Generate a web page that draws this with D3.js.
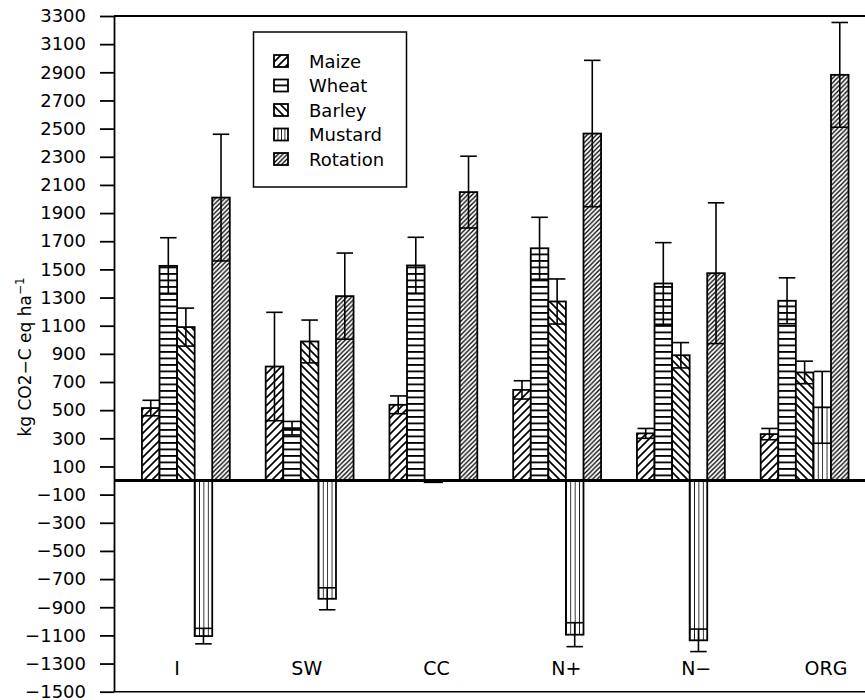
<!DOCTYPE html>
<html>
<head>
<meta charset="utf-8">
<script src="https://cdn.jsdelivr.net/npm/d3@7"></script>
<style>
  body { margin: 0; background: #fff; }
  svg { display: block; }
  text { font-family: "DejaVu Sans", sans-serif; fill: #000; }
</style>
</head>
<body>
<svg id="chart" width="865" height="700"></svg>
<script>
// ---- data ----
const groups = ["I", "SW", "CC", "N+", "N\u2212", "ORG"];
const crops = ["Maize", "Wheat", "Barley", "Mustard", "Rotation"];
const maize       = [515, 810, 538, 644, 335, 330];
const maizeErr    = [55, 385, 63, 65, 35, 40];
const wheat       = [1525, 372, 1528, 1650, 1400, 1277];
const wheatErr    = [200, 48, 200, 220, 290, 163];
const barley      = [1090, 988, -12, 1272, 890, 768];
const barleyErr   = [135, 152, 0, 160, 90, 80];
const mustard     = [-1105, -840, null, -1095, -1135, 520];
const mustardErr  = [55, 78, 0, 85, 80, 255];
const rotation    = [2010, 1310, 2049, 2465, 1473, 2882];
const rotationErr = [450, 306, 255, 520, 500, 372];
const yTicks = d3.range(-1500, 3301, 200);

const values = [maize, wheat, barley, mustard, rotation];
const errors = [maizeErr, wheatErr, barleyErr, mustardErr, rotationErr];
const patternIds = ["pMaize", "pWheat", "pBarley", "pMustard", "pRotation"];

const svg = d3.select("#chart");
const axisX = 114, plotTop = 16, plotBottom = 691.7, plotRight = 866.5;

// ---- patterns ----
const defs = svg.append("defs");
function diag(id, s, dir, sw) {
  const p = defs.append("pattern").attr("id", id).attr("patternUnits", "userSpaceOnUse")
    .attr("width", s).attr("height", s);
  p.append("rect").attr("width", s).attr("height", s).attr("fill", "#fff");
  const d = dir > 0
    ? `M0,${s} L${s},0 M${-s/4},${s/4} L${s/4},${-s/4} M${s*3/4},${s*5/4} L${s*5/4},${s*3/4}`
    : `M0,0 L${s},${s} M${-s/4},${s*3/4} L${s/4},${s*5/4} M${s*3/4},${-s/4} L${s*5/4},${s/4}`;
  p.append("path").attr("d", d).attr("stroke", "#000").attr("stroke-width", sw).attr("fill", "none");
}
diag("pMaize", 8, 1, 1.7);
diag("pBarley", 8, -1, 1.7);
diag("pRotation", 4.6, 1, 1.3);
{
  const p = defs.append("pattern").attr("id", "pWheat").attr("patternUnits", "userSpaceOnUse")
    .attr("width", 10).attr("height", 6.5);
  p.append("rect").attr("width", 10).attr("height", 6.5).attr("fill", "#fff");
  p.append("rect").attr("y", 0).attr("width", 10).attr("height", 1.8).attr("fill", "#000");
}
{
  const p = defs.append("pattern").attr("id", "pMustard").attr("patternUnits", "objectBoundingBox")
    .attr("width", 0.25).attr("height", 1);
  p.append("rect").attr("width", 40).attr("height", 4000).attr("fill", "#fff");
  p.append("rect").attr("x", -0.8).attr("width", 1.6).attr("height", 4000).attr("fill", "#000");
}

// ---- scales ----
const y = d3.scaleLinear().domain([-1500, 3300]).range([plotBottom, plotTop]);
const x0 = d3.scaleBand().domain(groups).range([124, plotRight]).paddingInner(0.29).paddingOuter(0.145);
const x1 = d3.scaleBand().domain(crops).range([0, x0.bandwidth()]).padding(0);
const xLabel = d3.scalePoint().domain(groups).range([177, 826]);

// ---- frame ----
svg.append("line").attr("x1", axisX).attr("x2", 865).attr("y1", plotTop).attr("y2", plotTop)
  .attr("stroke", "#000").attr("stroke-width", 2);
svg.append("line").attr("x1", axisX).attr("x2", 865).attr("y1", plotBottom).attr("y2", plotBottom)
  .attr("stroke", "#000").attr("stroke-width", 1.5);

// ---- y axis ----
const yAxis = svg.append("g").attr("transform", `translate(${axisX},0)`)
  .call(d3.axisLeft(y).tickValues(yTicks).tickFormat(d3.format("d"))
    .tickSize(14).tickPadding(14).tickSizeOuter(0));
yAxis.select(".domain").attr("stroke-width", 1.8);
yAxis.selectAll(".tick line").attr("stroke-width", 1.8);
yAxis.selectAll(".tick text").attr("font-size", 18).attr("font-family", "DejaVu Sans, sans-serif");

// ---- bars ----
const barData = [];
groups.forEach((g, gi) => {
  crops.forEach((c, ci) => {
    const v = values[ci][gi];
    if (v === null || v === undefined) return;
    barData.push({ g, c, ci, v, e: errors[ci][gi] });
  });
});

const bars = svg.append("g");
bars.selectAll("rect").data(barData).join("rect")
  .attr("x", d => x0(d.g) + x1(d.c))
  .attr("width", x1.bandwidth())
  .attr("y", d => y(Math.max(0, d.v)))
  .attr("height", d => Math.abs(y(d.v) - y(0)))
  .attr("fill", d => `url(#${patternIds[d.ci]})`)
  .attr("stroke", "#000").attr("stroke-width", 1.8);

// error bars
const eb = svg.append("g").attr("stroke", "#000").attr("stroke-width", 1.6);
barData.filter(d => d.e > 0).forEach(d => {
  const bx = x0(d.g) + x1(d.c), w = x1.bandwidth(), cx = bx + w / 2;
  const sign = d.v >= 0 ? 1 : -1;
  const far = d.v + sign * d.e, near = d.v - sign * d.e;
  eb.append("line").attr("x1", cx).attr("x2", cx).attr("y1", y(far)).attr("y2", y(near));
  eb.append("line").attr("x1", cx - w * 0.47).attr("x2", cx + w * 0.47).attr("y1", y(far)).attr("y2", y(far));
  eb.append("line").attr("x1", bx).attr("x2", bx + w).attr("y1", y(near)).attr("y2", y(near));
});

// zero line
svg.append("line").attr("x1", axisX).attr("x2", 865).attr("y1", y(0)).attr("y2", y(0))
  .attr("stroke", "#000").attr("stroke-width", 3);

// x labels
svg.append("g").selectAll("text").data(groups).join("text")
  .attr("x", d => xLabel(d)).attr("y", 675)
  .attr("text-anchor", "middle").attr("font-size", 19).text(d => d);

// y label
const yl = svg.append("text").attr("transform", "translate(31,357) rotate(-90)")
  .attr("text-anchor", "middle").attr("font-size", 17);
yl.append("tspan").text("kg CO2\u2212C eq ha");
yl.append("tspan").attr("dy", -7).attr("font-size", 12).text("\u22121");

// legend
const lg = svg.append("g");
lg.append("rect").attr("x", 253.5).attr("y", 32).attr("width", 153).attr("height", 155)
  .attr("fill", "#fff").attr("stroke", "#000").attr("stroke-width", 1.5);
crops.forEach((c, i) => {
  const cy = 61 + i * 24.5;
  lg.append("rect").attr("x", 274).attr("y", cy - 6).attr("width", 14).attr("height", 12)
    .attr("fill", `url(#${patternIds[i]})`).attr("stroke", "#000").attr("stroke-width", 1.8);
  lg.append("text").attr("x", 309).attr("y", cy + 6.5).attr("font-size", 18).text(c);
});
</script>
</body>
</html>
